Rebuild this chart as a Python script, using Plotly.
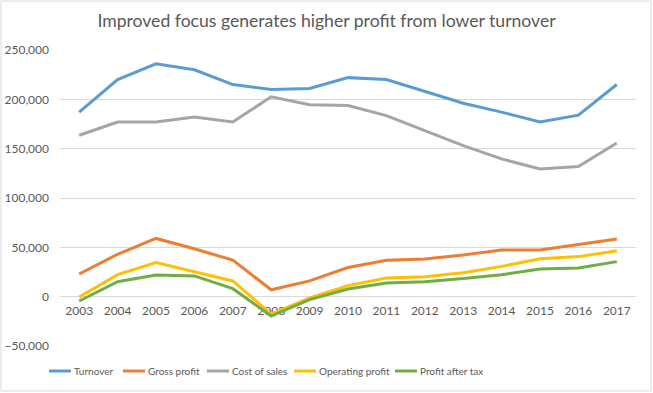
import plotly.graph_objects as go

years = [str(y) for y in range(2003, 2018)]
turnover = [187000, 220000, 236000, 230000, 215000, 210000, 211000, 222000, 220000, 208000, 196000, 187000, 177000, 184000, 215000]
gross_profit = [23000, 43000, 59000, 48500, 37000, 7000, 16000, 29500, 37000, 38200, 42300, 47400, 47400, 52700, 58500]
cost_of_sales = [163600, 177000, 177000, 182000, 177000, 202500, 194500, 193700, 183500, 168600, 153000, 139600, 129500, 131800, 155800]
operating_profit = [-300, 22300, 34500, 25000, 15900, -17600, -1300, 11200, 19000, 20300, 24300, 30700, 38500, 40600, 46600]
profit_after_tax = [-4400, 15200, 22000, 21000, 8100, -19600, -3000, 7800, 13900, 15200, 18300, 22300, 28100, 29100, 35500]

series_names = ["Turnover", "Gross profit", "Cost of sales", "Operating profit", "Profit after tax"]
series_values = [turnover, gross_profit, cost_of_sales, operating_profit, profit_after_tax]
series_colors = ["#5B9BD5", "#ED7D31", "#A5A5A5", "#FFC000", "#70AD47"]

fig = go.Figure()
for name, vals, color in zip(series_names, series_values, series_colors):
    fig.add_trace(go.Scatter(x=years, y=vals, mode="lines", name=name,
                             line=dict(color=color, width=3)))

L, R, T, B = 60, 17, 50, 47
W, H = 653, 393
pw, ph = W - L - R, H - T - B


def px_x(p):
    return (p - L) / pw


def px_y(p):
    return (H - B - p) / ph


fig.update_layout(
    width=W, height=H,
    margin=dict(l=L, r=R, t=T, b=B, pad=0, autoexpand=False),
    paper_bgcolor="white", plot_bgcolor="white",
    font=dict(family="Lato, Carlito, Calibri, sans-serif", color="#595959", size=12),
    title=dict(text="Improved focus generates higher profit from lower turnover",
               x=0.5, xanchor="center", y=1 - 21 / H, yanchor="middle",
               font=dict(size=17.6, color="#595959")),
    showlegend=False,
    xaxis=dict(type="category", range=[-0.5, 14.5], showgrid=False, zeroline=False, showline=False,
               ticks="", anchor="free", position=1 / 6 - 5 / ph, layer="below traces",
               tickfont=dict(size=12, color="#595959")),
    yaxis=dict(range=[-50000, 250000], dtick=50000, tickformat=",d",
               showgrid=True, gridcolor="#D9D9D9", gridwidth=1,
               zeroline=True, zerolinecolor="#D9D9D9", zerolinewidth=1,
               showline=False, ticks="", ticklabelstandoff=10,
               tickfont=dict(size=12, color="#595959")),
)

# legend (drawn manually to match the original compact spacing)
legend_line_x = [49, 123, 207, 294, 395]
legend_y = 371
for name, color, lx in zip(series_names, series_colors, legend_line_x):
    fig.add_shape(type="line", xref="paper", yref="paper",
                  x0=px_x(lx), x1=px_x(lx + 22), y0=px_y(legend_y), y1=px_y(legend_y),
                  line=dict(color=color, width=3))
    fig.add_annotation(text=name, xref="paper", yref="paper", x=px_x(lx + 23), y=px_y(legend_y),
                       xanchor="left", yanchor="middle", showarrow=False,
                       font=dict(size=10, color="#595959"))

fig.add_shape(type="rect", xref="paper", yref="paper",
              x0=px_x(1), x1=px_x(651), y0=px_y(391), y1=px_y(1),
              line=dict(color="#D9D9D9", width=1), fillcolor="rgba(0,0,0,0)", layer="above")

fig.write_html("out.html", config={"displayModeBar": False},
               post_script="document.body.style.margin='0';document.body.style.overflow='hidden';")
